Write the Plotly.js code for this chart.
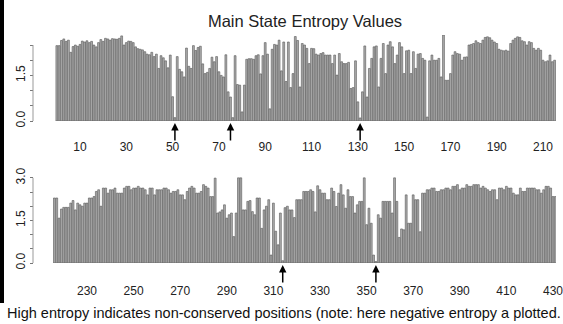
<!DOCTYPE html>
<html>
<head>
<meta charset="utf-8">
<script src="https://cdn.plot.ly/plotly-3.0.1.min.js"></script>
<style>html,body{margin:0;padding:0;background:#fff;}#chart{width:563px;height:324px;}</style>
</head>
<body>
<div id="chart"></div>
<script>
// Positions 0..215 (upper panel) and 216..431 (lower panel)
const topEntropy = [
 2.48,2.48,2.65,2.70,2.62,2.66,2.26,2.45,2.50,2.46,
 2.52,2.63,2.60,2.64,2.58,2.62,2.50,2.44,2.58,2.68,
 2.62,2.72,2.70,2.66,2.71,2.70,2.69,2.72,2.80,2.50,
 2.58,2.63,2.62,2.58,2.44,2.38,2.36,2.34,2.28,2.20,
 2.18,2.26,2.12,2.20,1.73,2.15,2.08,1.98,1.75,2.17,
 0.80,0.11,2.12,1.70,1.62,1.45,2.40,1.80,1.73,2.48,
 2.32,2.42,2.46,1.88,1.56,1.60,1.73,2.10,1.95,2.12,
 1.62,1.50,1.45,2.18,0.96,0.79,0.11,2.15,1.20,1.18,
 0.30,1.18,2.03,2.05,2.05,2.03,2.15,2.18,1.55,2.15,
 2.58,2.20,0.40,2.36,2.52,2.50,2.66,1.65,2.60,1.30,
 2.60,1.10,1.56,2.78,2.65,1.12,2.55,2.50,2.39,1.89,
 2.39,2.38,2.20,2.17,2.22,2.25,2.17,2.17,2.17,1.89,
 2.17,1.51,2.22,1.95,1.89,1.89,1.93,1.07,1.10,1.98,
 0.63,0.10,0.96,2.47,0.79,1.73,2.06,2.44,2.47,1.12,
 2.06,2.55,1.56,2.50,2.61,2.44,1.89,2.17,2.58,2.44,
 1.56,2.31,2.33,1.56,2.28,1.73,2.20,2.22,2.06,2.00,
 0.13,1.98,2.17,2.00,2.00,2.06,1.45,2.83,1.34,1.34,
 1.56,2.17,2.28,2.22,2.20,2.00,2.10,2.11,2.50,2.52,
 2.55,2.64,2.58,2.55,2.66,2.75,2.77,2.74,2.66,2.60,
 2.55,2.36,2.33,2.31,2.33,2.30,2.55,2.66,2.72,2.77,
 2.75,2.64,2.61,2.50,2.61,2.58,2.39,2.33,2.39,2.33,
 2.00,1.95,1.98,2.17,1.95,2.00
];
const bottomEntropy = [
 2.29,2.29,1.58,1.90,1.96,1.96,1.96,2.11,2.20,1.87,
 2.11,2.05,2.00,2.11,2.11,2.29,2.29,2.34,2.52,2.58,
 2.00,2.64,2.64,2.46,2.58,2.58,2.64,2.46,2.46,2.46,
 2.64,2.70,2.70,2.58,2.64,2.64,2.70,2.64,2.64,2.58,
 2.40,2.64,2.64,2.40,2.58,2.58,2.58,2.64,2.64,2.58,
 2.46,2.52,2.52,2.58,2.40,2.40,2.23,2.52,2.64,2.70,
 2.64,2.46,2.46,2.52,2.76,2.70,2.64,2.34,2.34,2.99,
 1.76,1.80,1.87,2.05,1.58,1.70,1.76,0.93,1.76,3.00,
 3.00,1.87,1.87,2.17,2.20,1.81,1.70,2.29,2.29,1.22,
 1.87,2.00,2.23,0.28,2.11,1.12,0.64,1.76,0.08,1.95,
 2.00,1.87,1.87,1.60,2.23,2.23,2.23,2.52,2.52,2.52,
 2.58,2.52,1.80,2.72,2.58,2.46,2.46,2.23,2.23,2.64,
 2.52,1.99,2.46,2.76,2.40,1.93,2.58,2.34,2.34,1.76,
 2.05,2.17,2.17,3.00,1.35,1.93,1.40,0.28,0.05,1.70,
 1.58,2.17,2.17,2.17,2.17,1.76,3.00,2.17,0.90,1.20,
 1.17,2.40,1.40,1.40,2.40,2.23,2.23,1.10,2.46,2.46,
 2.58,2.58,2.64,2.64,2.52,2.52,2.58,2.58,2.64,2.64,
 2.58,2.70,2.70,2.76,2.58,2.64,2.64,2.76,2.70,2.70,
 2.76,2.76,2.76,2.64,2.70,2.64,2.58,2.52,2.58,2.58,
 2.23,2.64,2.64,2.58,2.70,2.64,2.64,2.46,2.40,2.40,
 2.64,2.52,2.52,2.64,2.64,2.64,2.64,2.58,2.58,2.46,
 2.58,2.70,2.70,2.64,2.34,2.34
];
const topStart = 0;
const bottomStart = 216;
const topTicks = [10,30,50,70,90,110,130,150,170,190,210];
const bottomTicks = [230,250,270,290,310,330,350,370,390,410,430];
const topYTicks = [0,0.5,1,1.5,2,2.5];
const topYLabels = ['0.0','','','1.5','',''];
const bottomYTicks = [0,0.5,1,1.5,2,2.5,3];
const bottomYLabels = ['0.0','','','1.5','','','3.0'];
const topArrows = [51,75,131];
const bottomArrows = [314,354];
const titleText = 'Main State Entropy Values';
const captionText = 'High entropy indicates non-conserved positions (note: here negative entropy a plotted.';

const W = 563, H = 324;
const px = v => v / W;
const py = v => 1 - v / H;
const FONT = 'Liberation Sans, Arial, Helvetica, sans-serif';

const topX = topEntropy.map((_, i) => topStart + i);
const bottomX = bottomEntropy.map((_, i) => bottomStart + i);

const barStyle = {color: '#adadad', line: {color: '#555', width: 0.6}};
const traces = [
  {type: 'bar', x: topX, y: topEntropy, xaxis: 'x', yaxis: 'y', marker: barStyle, hoverinfo: 'none'},
  {type: 'bar', x: bottomX, y: bottomEntropy, xaxis: 'x2', yaxis: 'y2', marker: barStyle, hoverinfo: 'none'}
];

const xCommon = {showgrid: false, zeroline: false, showline: false, ticks: 'outside', tickcolor: 'rgba(0,0,0,0)',
  ticklabeloverflow: 'allow', tickfont: {family: FONT, size: 12, color: '#222'}, fixedrange: true};
const yCommon = {showgrid: false, zeroline: false, showline: false, ticks: 'outside', ticklen: 3, tickwidth: 1,
  tickcolor: '#777', tickangle: -90, tickmode: 'array', anchor: 'free', position: px(33),
  tickfont: {family: FONT, size: 12, color: '#222'}, fixedrange: true};

const annotations = [];
topArrows.forEach(a => annotations.push({xref: 'x', yref: 'y', x: a, y: 0, yshift: -2, ax: 0, ay: 19, text: '',
  showarrow: true, arrowhead: 2, arrowsize: 1, arrowwidth: 1.5, arrowcolor: '#000'}));
bottomArrows.forEach(a => annotations.push({xref: 'x2', yref: 'y2', x: a, y: 0, yshift: -2, ax: 0, ay: 19, text: '',
  showarrow: true, arrowhead: 2, arrowsize: 1, arrowwidth: 1.5, arrowcolor: '#000'}));
annotations.push({xref: 'paper', yref: 'paper', x: px(284), y: py(313), xanchor: 'center', yanchor: 'middle',
  text: captionText, showarrow: false, font: {family: FONT, size: 14.5, color: '#111'}});

const layout = {
  width: W, height: H, margin: {l: 0, r: 0, t: 0, b: 0}, paper_bgcolor: '#fff', plot_bgcolor: '#fff',
  showlegend: false, bargap: 0.2,
  title: {text: titleText, x: px(305), xanchor: 'center', y: py(21), yanchor: 'middle', xref: 'paper', yref: 'paper',
    font: {family: FONT, size: 16.5, color: '#222'}},
  xaxis: Object.assign({}, xCommon, {domain: [px(53), px(556)], range: [-1.66, 215.6], anchor: 'y',
    tickmode: 'array', tickvals: topTicks, ticklen: 15}),
  yaxis: Object.assign({}, yCommon, {domain: [py(121), py(35)], range: [0, 2.83], tickvals: topYTicks, ticktext: topYLabels}),
  xaxis2: Object.assign({}, xCommon, {domain: [px(53), px(556)], range: [215.4, 431.3], anchor: 'y2',
    tickmode: 'array', tickvals: bottomTicks, ticklen: 17}),
  yaxis2: Object.assign({}, yCommon, {domain: [py(263), py(175)], range: [0, 3.1], tickvals: bottomYTicks, ticktext: bottomYLabels}),
  shapes: [
    {type: 'line', xref: 'paper', yref: 'y', x0: px(33), x1: px(33), y0: 0, y1: 2.5, line: {color: '#999', width: 1}},
    {type: 'line', xref: 'paper', yref: 'y2', x0: px(33), x1: px(33), y0: 0, y1: 3, line: {color: '#999', width: 1}},
    {type: 'rect', xref: 'paper', yref: 'paper', x0: 0, x1: px(4), y0: py(303), y1: 1, fillcolor: '#000', line: {width: 0}}
  ],
  annotations: annotations
};

Plotly.newPlot('chart', traces, layout, {staticPlot: true, displayModeBar: false});
</script>
</body>
</html>
